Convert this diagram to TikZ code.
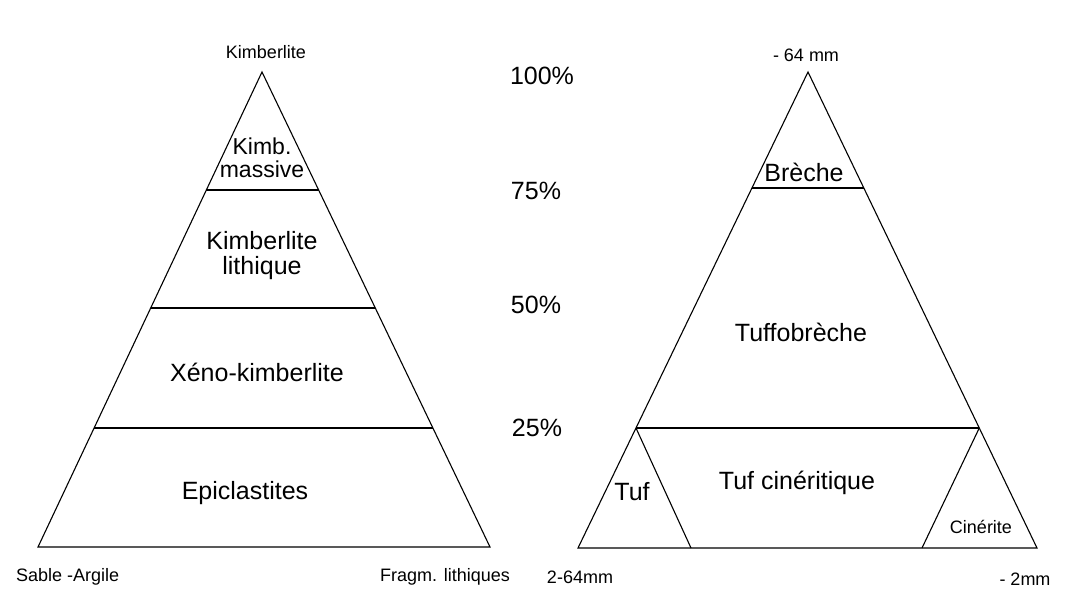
\documentclass[tikz,border=0pt]{standalone}
\usepackage{fontspec}
\setmainfont{Liberation Sans}
\usetikzlibrary{calc}
\begin{document}
\begin{tikzpicture}[x=1pt,y=-1pt,
  edge/.style={line width=1.1pt, line join=miter},
  big/.style={font=\fontsize{25}{28}\selectfont, align=center, inner sep=0pt},
  mid/.style={font=\fontsize{23}{26}\selectfont, align=center, inner sep=0pt},
  small/.style={font=\fontsize{18}{21}\selectfont, inner sep=0pt},
  pct/.style={font=\fontsize{25}{28}\selectfont, inner sep=0pt}]
\useasboundingbox (0,0) rectangle (1066,599);
% left triangle
\coordinate (LA) at (262,72);
\coordinate (LL) at (38,547);
\coordinate (LR) at (490,547);
\draw[edge] (LA) -- (LL) -- (LR) -- cycle;
\draw[edge] ($(LA)!0.2484!(LL)$) coordinate (l1a) -- ($(LA)!0.2484!(LR)$) coordinate (l1b);
\draw[edge] ($(LA)!0.4968!(LL)$) coordinate (l2a) -- ($(LA)!0.4968!(LR)$) coordinate (l2b);
\draw[edge] ($(LA)!0.7495!(LL)$) coordinate (l3a) -- ($(LA)!0.7495!(LR)$) coordinate (l3b);
\node[small] (kimtop) at (266,52) {Kimberlite};
\node[mid] (kimb) at (262,158) {Kimb.\\[-3pt]massive};
\node[big] (kimlith) at (262,256) {Kimberlite\\[-3pt]lithique};
\node[big] (xeno) at (257,372) {Xéno-kimberlite};
\node[big] (epi) at (245,493) {Epiclastites};
\node[small, anchor=west] (sable) at (16,577) {Sable -Argile};
\node[small] (fragm) at (445,577) {Fragm. lithiques};
% percentages
\node[pct] (p100) at (542,76) {100\%};
\node[pct] (p75) at (536,191) {75\%};
\node[pct] (p50) at (536,305) {50\%};
\node[pct] (p25) at (537,428) {25\%};
% right triangle
\coordinate (RA) at (808,72);
\coordinate (RL) at (578,548);
\coordinate (RR) at (1037,548);
\draw[edge] (RA) -- (RL) -- (RR) -- cycle;
\draw[edge] ($(RA)!0.2437!(RL)$) coordinate (r1a) -- ($(RA)!0.2437!(RR)$) coordinate (r1b);
\draw[edge] ($(RA)!0.7479!(RL)$) coordinate (r2a) -- ($(RA)!0.7479!(RR)$) coordinate (r2b);
\coordinate (tufR) at (691,548);
\coordinate (cinL) at (922,548);
\draw[edge] (r2a) -- (tufR);
\draw[edge] (r2b) -- (cinL);
\node[small] (top64) at (806,55) {- 64 mm};
\node[big] (breche) at (804,172) {Brèche};
\node[big] (tuffo) at (801,332) {Tuffobrèche};
\node[big] (tufcin) at (797,483) {Tuf cinéritique};
\node[big] (tuf) at (632,492) {Tuf};
\node[small] (cinerite) at (981,527) {Cinérite};
\node[small] (b264) at (580,577) {2-64mm};
\node[small] (b2) at (1025,579) {- 2mm};
\end{tikzpicture}
\end{document}
